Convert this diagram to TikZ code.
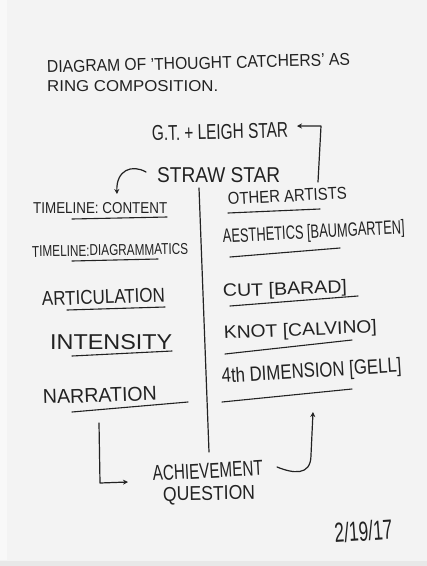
\documentclass[tikz,border=0pt]{standalone}
\usepackage{fontspec}
\setmainfont{Liberation Sans}
\usepackage{graphicx}
\usetikzlibrary{arrows.meta}
\definecolor{ink}{HTML}{222222}
\definecolor{paper}{HTML}{F3F3F3}
\definecolor{edge}{HTML}{F8F8F8}
\newcommand{\hw}[3]{\resizebox{#1pt}{#2pt}{#3}}
\begin{document}
\begin{tikzpicture}[x=1pt,y=-1pt,
  hand/.style={inner sep=0pt, anchor=base west, text=ink},
  uline/.style={draw=ink, line width=1.1pt, line cap=round},
  pen/.style={draw=ink, line width=1.2pt, line cap=round, line join=round},
  arr/.style={pen, -{Stealth[length=5pt,width=5pt]}}]
\useasboundingbox (0,0) rectangle (427,566);
\fill[paper] (0,0) rectangle (427,566);
\fill[edge] (0,0) rectangle (7,560);
\fill[black!9] (0,561) rectangle (427,566);

% title
\node[hand, rotate=1.5] (t1) at (47,73) {\hw{303}{12}{DIAGRAM OF 'THOUGHT CATCHERS' AS}};
\node[hand] (t2) at (47,91) {\hw{171}{11}{RING COMPOSITION.}};

% top
\node[hand, rotate=1.5] (gt) at (152,141) {\hw{136}{15}{G.T. + LEIGH STAR}};
\node[hand] (ss) at (157,182) {\hw{123}{15}{STRAW STAR}};

% left column
\node[hand] (l1) at (33,213) {\hw{134}{11}{TIMELINE: CONTENT}};
\node[hand, rotate=1] (l2) at (32,257) {\hw{156}{11}{TIMELINE:DIAGRAMMATICS}};
\node[hand, rotate=2] (l3) at (42,306) {\hw{123}{14}{ARTICULATION}};
\node[hand] (l4) at (50,349) {\hw{122}{15}{INTENSITY}};
\node[hand, rotate=2] (l5) at (43,404) {\hw{114}{14}{NARRATION}};

% right column
\node[hand, rotate=3] (r1) at (228,205) {\hw{119}{12}{OTHER ARTISTS}};
\node[hand, rotate=3] (r2) at (223,243) {\hw{182}{14}{AESTHETICS [BAUMGARTEN]}};
\node[hand, rotate=2] (r3) at (223,297) {\hw{124}{13}{CUT [BARAD]}};
\node[hand, rotate=2.5] (r4) at (224,339) {\hw{153}{13}{KNOT [CALVINO]}};
\node[hand, rotate=3.5] (r5) at (222,383) {\hw{180}{15}{4th DIMENSION [GELL]}};

% bottom
\node[hand, rotate=3] (aq1) at (153,481) {\hw{110}{15}{ACHIEVEMENT}};
\node[hand, rotate=1] (aq2) at (163,501) {\hw{92}{14}{QUESTION}};
\node[hand, rotate=4] (date) at (335,543) {\hw{58}{20}{2/19/17}};

% underlines
\draw[uline] (72,219) -- (167,217);
\draw[uline] (72,261) -- (158,259);
\draw[uline] (67,310) -- (165,307);
\draw[uline] (72,356) -- (172,351);
\draw[uline] (72,412) -- (188,402);
\draw[uline] (228,213) -- (320,209);
\draw[uline] (230,257) -- (340,248);
\draw[uline] (230,306) -- (358,296);
\draw[uline] (225,354) -- (352,340);
\draw[uline] (222,402) -- (352,389);

% divider
\coordinate (dtop) at (199,188);
\coordinate (dbot) at (209,452);
\draw[pen] (dtop) -- (dbot);

% arrows
\coordinate (a1s) at (318,182);
\coordinate (a1c) at (321,126);
\coordinate (a1e) at (297,126);
\draw[arr] (a1s) -- (a1c) -- (a1e);

\coordinate (a2s) at (146,172);
\coordinate (a2e) at (117,194);
\draw[arr] (a2s) .. controls (132,164) and (116,170) .. (a2e);

\coordinate (a3s) at (99,423);
\coordinate (a3c) at (100,483);
\coordinate (a3e) at (128,482);
\draw[arr] (a3s) -- (a3c) -- (a3e);

\coordinate (a4s) at (277,467);
\coordinate (a4e) at (313,412);
\draw[arr] (a4s) .. controls (292,473) and (311,477) .. (311,455) -- (a4e);
\end{tikzpicture}
\end{document}
